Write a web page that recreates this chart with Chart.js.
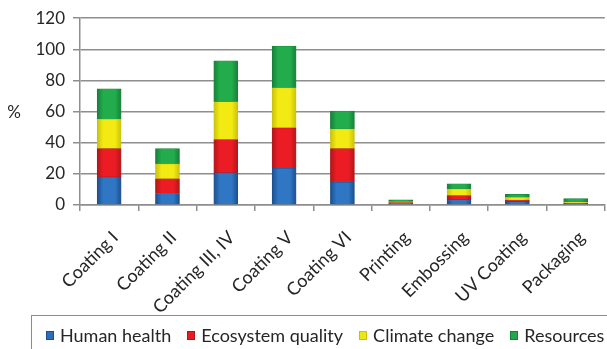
<!DOCTYPE html>
<html>
<head>
<meta charset="utf-8">
<script src="https://cdn.jsdelivr.net/npm/chart.js@4.4.1/dist/chart.umd.min.js"></script>
<style>
  html, body { margin: 0; padding: 0; background: #fff; overflow: hidden; }
  #wrap { position: relative; width: 607px; height: 349px; }
  #chart { position: absolute; left: 0; top: 0; }
  #legend {
    position: absolute; left: 31px; top: 315px; width: 640px; height: 40px;
    border: 1px solid #8c8c8c; box-sizing: border-box;
    font-family: Lato, "Open Sans", sans-serif; font-size: 18px; color: #262626;
    display: flex; align-items: center; padding-left: 14px; white-space: nowrap;
  }
  #legend .item { display: flex; align-items: center; margin-right: 16px; }
  #legend .sw { width: 8px; height: 9px; margin-right: 6px; box-sizing: border-box; }
</style>
</head>
<body>
<div id="wrap">
  <canvas id="chart" width="607" height="349"></canvas>
  <div id="legend"></div>
</div>
<script>
// Processing stages
const categories = ["Coating I", "Coating II", "Coating III, IV", "Coating V", "Coating VI",
                    "Printing", "Embossing", "UV Coating", "Packaging"];

// Impact shares per damage category (%)
const humanHealth      = [18.0, 7.4, 20.6, 23.6, 14.7, 0.8, 3.3, 2.1, 1.0];
const ecosystemQuality = [18.2, 9.4, 21.5, 25.9, 21.5, 0.7, 2.7, 1.0, 0.3];
const climateChange    = [18.9, 9.5, 24.2, 25.7, 12.6, 0.7, 4.3, 1.7, 0.6];
const resources        = [19.6, 9.9, 26.3, 26.9, 11.6, 1.2, 3.3, 2.1, 2.2];

const yTicks = [0, 20, 40, 60, 80, 100, 120];

const FONT = 'Lato, "Open Sans", sans-serif';
const TEXT = '#262626';
const GRID = '#8e8e8e';

// Glossy horizontal shading across each bar
function shaded(mid, edge) {
  return function (ctx) {
    const chart = ctx.chart;
    if (!chart.chartArea || !chart.scales.x) return mid;
    const cx = chart.scales.x.getPixelForValue(ctx.dataIndex);
    const g = chart.ctx.createLinearGradient(cx - 12, 0, cx + 12, 0);
    g.addColorStop(0, edge);
    g.addColorStop(0.25, mid);
    g.addColorStop(0.75, mid);
    g.addColorStop(1, edge);
    return g;
  };
}

const series = [
  { label: 'Human health',      data: humanHealth,      mid: '#2f76c4', edge: '#1d4f8c', sw: '#2a6db8' },
  { label: 'Ecosystem quality', data: ecosystemQuality, mid: '#ec1c24', edge: '#b0161c', sw: '#e81c24' },
  { label: 'Climate change',    data: climateChange,    mid: '#f2ea12', edge: '#c9c10c', sw: '#eee614' },
  { label: 'Resources',         data: resources,        mid: '#22ac4c', edge: '#17803a', sw: '#22a84a' }
];

const datasets = series.map(s => ({
  label: s.label,
  data: s.data,
  backgroundColor: shaded(s.mid, s.edge),
  borderColor: s.edge,
  borderWidth: 0.6,
  borderSkipped: false,
  barThickness: 24,
  swatch: s.sw
}));

// "%" caption beside the value axis
const percentLabel = {
  id: 'percentLabel',
  afterDraw(chart) {
    const y = chart.scales.y;
    const c = chart.ctx;
    c.save();
    c.font = '17px ' + FONT;
    c.fillStyle = TEXT;
    c.textAlign = 'center';
    c.textBaseline = 'middle';
    c.fillText('%', 14, y.getPixelForValue(60) + 1);
    c.restore();
  }
};

// Legend built from the chart's datasets
const htmlLegend = {
  id: 'htmlLegend',
  afterUpdate(chart) {
    const box = document.getElementById('legend');
    box.innerHTML = '';
    chart.data.datasets.forEach(ds => {
      const item = document.createElement('div');
      item.className = 'item';
      const sw = document.createElement('span');
      sw.className = 'sw';
      sw.style.background = ds.swatch;
      sw.style.border = '1px solid ' + ds.borderColor;
      const t = document.createElement('span');
      t.textContent = ds.label;
      item.appendChild(sw);
      item.appendChild(t);
      box.appendChild(item);
    });
  }
};

new Chart(document.getElementById('chart'), {
  type: 'bar',
  data: { labels: categories, datasets },
  options: {
    responsive: false,
    animation: false,
    devicePixelRatio: 1,
    layout: { padding: { top: 15, right: 1, left: 0, bottom: 0 } },
    plugins: { legend: { display: false }, tooltip: { enabled: false } },
    scales: {
      x: {
        stacked: true,
        grid: { drawOnChartArea: false, drawTicks: true, tickLength: 6, color: GRID, lineWidth: 1.5 },
        border: { color: GRID, width: 1.5 },
        ticks: {
          color: TEXT, font: { family: FONT, size: 18 },
          minRotation: 45, maxRotation: 45, autoSkip: false, padding: 16, labelOffset: 6
        },
        afterFit(scale) { scale.height = 144; }
      },
      y: {
        stacked: true,
        min: 0, max: 120,
        afterBuildTicks(scale) { scale.ticks = yTicks.map(v => ({ value: v })); },
        grid: { color: GRID, lineWidth: 1.5, tickLength: 7 },
        border: { color: GRID, width: 1.5 },
        ticks: { color: TEXT, font: { family: FONT, size: 17 }, padding: 8 },
        afterFit(scale) { scale.width = 80; }
      }
    }
  },
  plugins: [percentLabel, htmlLegend]
});
</script>
</body>
</html>
